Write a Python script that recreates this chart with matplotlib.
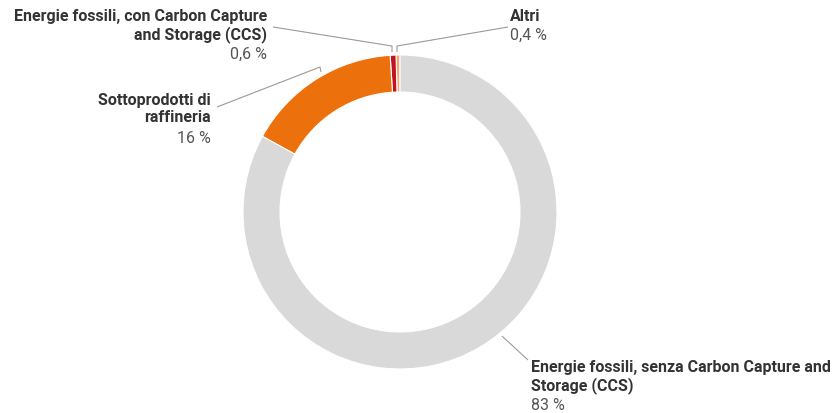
import matplotlib
matplotlib.use("Agg")
import matplotlib.pyplot as plt
import numpy as np

# data (counterclockwise from 12 o'clock)
labels = ["Altri",
          "Energie fossili, con Carbon Capture\nand Storage (CCS)",
          "Sottoprodotti di\nraffineria",
          "Energie fossili, senza Carbon Capture and\nStorage (CCS)"]
values = [0.4, 0.6, 16, 83]
value_text = ["0,4 %", "0,6 %", "16 %", "83 %"]
colors = ["#f4a56c", "#c1121f", "#ec700b", "#d9d9d9"]

W, H = 838, 414
cx, cy, r_out, ring = 400, 213, 157, 37

fig = plt.figure(figsize=(W / 100, H / 100), dpi=100)
ax = fig.add_axes([0, 0, 1, 1])

wedges, _ = ax.pie(values, colors=colors, startangle=90, counterclock=True,
                   center=(cx, H - cy), radius=r_out,
                   wedgeprops=dict(width=ring, edgecolor="white", linewidth=0.8))
# pie resets the limits, so set them afterwards
ax.set_xlim(0, W)
ax.set_ylim(0, H)
ax.set_aspect("equal")
ax.axis("off")

# label layout: text anchor (px), alignment, leader line points (px)
text_pos = [(510, 9, "left"), (267, 9, "right"), (211, 93, "right"), (531, 360, "left")]
leaders = [[(397, 53), (397, 47), (508, 28)],
           [(392, 53), (392, 47), (273, 28)],
           [(321, 73), (320, 68), (217, 108)],
           [(502, 337), (528, 361)]]

font = ["Roboto", "DejaVu Sans"]
for lab, val, (tx, ty, ha), pts in zip(labels, value_text, text_pos, leaders):
    xs = [p[0] for p in pts]
    ys = [H - p[1] for p in pts]
    ax.plot(xs, ys, color="#9a9a9a", lw=0.8, solid_capstyle="butt")
    n = lab.count("\n") + 1
    ax.text(tx, H - ty, lab, ha=ha, va="top", fontsize=11.5, fontweight="bold",
            color="#333333", family=font, linespacing=1.13, multialignment=ha)
    ax.text(tx, H - ty - 19 * n, val, ha=ha, va="top", fontsize=11.5,
            color="#555555", family=font)

fig.savefig("out.png", dpi=100)
